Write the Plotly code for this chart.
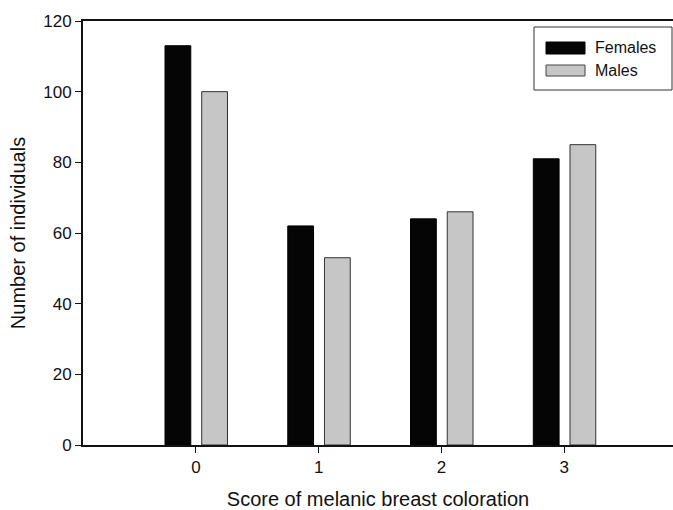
import plotly.graph_objects as go

categories = [0, 1, 2, 3]
females = [113, 62, 64, 81]
males = [100, 53, 66, 85]
y_ticks = [0, 20, 40, 60, 80, 100, 120]

W, H = 673, 510
L, R, T, B = 83, 0, 21, 65
pw, ph = W - L - R, H - T - B

def px_x(x):
    return (x - L) / pw

def px_y(y):
    return (H - B - y) / ph

font = dict(family="Liberation Sans, Arial, sans-serif", size=17, color="#111")

fig = go.Figure()
fig.add_trace(go.Bar(x=categories, y=females, name="Females", width=0.21, offset=-0.252,
                     marker=dict(color="#050505", line=dict(color="#000", width=1)),
                     showlegend=False))
fig.add_trace(go.Bar(x=categories, y=males, name="Males", width=0.21, offset=0.047,
                     marker=dict(color="#c6c6c6", line=dict(color="#333", width=1)),
                     showlegend=False))

# manual legend
fig.add_shape(type="rect", xref="paper", yref="paper",
              x0=px_x(534), x1=px_x(672), y0=px_y(90), y1=px_y(27),
              line=dict(color="#333", width=1), fillcolor="white", layer="above")
fig.add_shape(type="rect", xref="paper", yref="paper",
              x0=px_x(546), x1=px_x(585), y0=px_y(54), y1=px_y(42),
              line=dict(color="#000", width=1), fillcolor="#050505", layer="above")
fig.add_shape(type="rect", xref="paper", yref="paper",
              x0=px_x(546), x1=px_x(585), y0=px_y(76), y1=px_y(65),
              line=dict(color="#444", width=1), fillcolor="#c6c6c6", layer="above")
fig.add_annotation(text="Females", xref="paper", yref="paper", x=px_x(593), y=px_y(48),
                   xanchor="left", yanchor="middle", showarrow=False, font=dict(size=16))
fig.add_annotation(text="Males", xref="paper", yref="paper", x=px_x(593), y=px_y(70),
                   xanchor="left", yanchor="middle", showarrow=False, font=dict(size=16))

fig.update_layout(
    width=W, height=H,
    margin=dict(l=L, r=R, t=T, b=B),
    paper_bgcolor="white", plot_bgcolor="white",
    font=font,
    barmode="overlay",
    xaxis=dict(range=[-0.92, 3.886], tickmode="array", tickvals=categories,
               ticktext=[str(c) for c in categories],
               showline=True, linecolor="#111", linewidth=2, mirror=True,
               ticks="outside", ticklen=6, tickcolor="#111", showgrid=False, zeroline=False,
               title=dict(text="Score of melanic breast coloration", standoff=16,
                          font=dict(size=20))),
    yaxis=dict(range=[0, 120], tickmode="array", tickvals=y_ticks,
               showline=True, linecolor="#111", linewidth=2,
               ticks="outside", ticklen=6, tickcolor="#111", showgrid=False, zeroline=False,
               title=dict(text="Number of individuals", standoff=12, font=dict(size=20))),
)

fig.write_html("out.html")
